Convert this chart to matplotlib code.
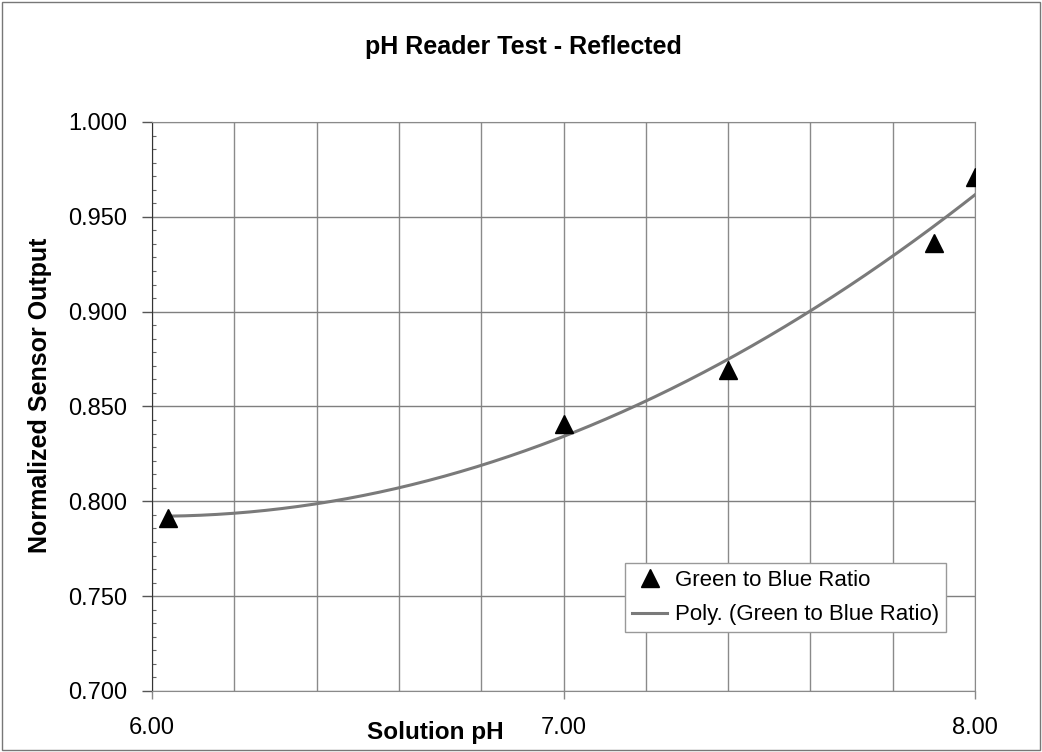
import numpy as np
import matplotlib
matplotlib.use("Agg")
import matplotlib.pyplot as plt
from matplotlib.patches import Rectangle
from matplotlib.ticker import MultipleLocator, AutoMinorLocator, FormatStrFormatter

# data
ph = [6.04, 7.00, 7.40, 7.90, 8.00]
ratio = [0.791, 0.841, 0.869, 0.936, 0.971]
title = "pH Reader Test - Reflected"
series_name = "Green to Blue Ratio"
trend_name = "Poly. (Green to Blue Ratio)"

plt.rcParams["font.family"] = ["Liberation Sans", "DejaVu Sans"]

fig = plt.figure(figsize=(10.42, 7.52), dpi=100)
ax = fig.add_axes([152 / 1042, 1 - 691 / 752, 823 / 1042, 569 / 752])

# 2nd order polynomial trendline, as the spreadsheet computes it
coef = np.polyfit(ph, ratio, 2)
xs = np.linspace(min(ph), max(ph), 200)
ax.plot(xs, np.polyval(coef, xs), color="#7a7a7a", lw=2.2, label=trend_name, zorder=3)
ax.plot(ph, ratio, ls="none", marker="^", ms=12.5, color="black", label=series_name, zorder=4)

ax.set_xlim(6.0, 8.0)
ax.set_ylim(0.700, 1.000)
ax.xaxis.set_major_locator(MultipleLocator(1.0))
ax.xaxis.set_minor_locator(MultipleLocator(0.2))
ax.xaxis.set_major_formatter(FormatStrFormatter("%.2f"))
ax.yaxis.set_major_locator(MultipleLocator(0.05))
ax.yaxis.set_minor_locator(AutoMinorLocator(7))
ax.yaxis.set_major_formatter(FormatStrFormatter("%.3f"))

ax.grid(which="major", axis="y", color="#7f7f7f", lw=1.0)
ax.grid(which="both", axis="x", color="#8a8a8a", lw=1.0)
ax.set_axisbelow(True)

ax.tick_params(axis="x", which="major", direction="out", length=6, width=1, color="#888888",
               labelsize=17, pad=13)
ax.tick_params(axis="x", which="minor", length=0)
ax.tick_params(axis="y", which="major", direction="out", length=7, width=1, color="#555555",
               labelsize=17, pad=11)
ax.tick_params(axis="y", which="minor", direction="in", length=3, width=0.8, color="#666666")

for side in ["top", "right", "bottom"]:
    ax.spines[side].set_color("#8a8a8a")
ax.spines["left"].set_color("#333333")

leg = ax.legend(handles=ax.get_lines()[::-1], loc="lower right", bbox_to_anchor=(0.9648, 0.1037),
                fontsize=16, frameon=True, fancybox=False, framealpha=1, edgecolor="#999999",
                borderpad=0.3, labelspacing=0.6, handlelength=1.6, handletextpad=0.35,
                borderaxespad=0)
leg.get_frame().set_linewidth(1.0)

fig.text(523 / 1042, 1 - 47 / 752, title, ha="center", va="center", fontsize=18, weight="bold")
fig.text(435 / 1042, 1 - 732 / 752, "Solution pH", ha="center", va="center", fontsize=17.5,
         weight="bold")
fig.text(40 / 1042, 1 - 395 / 752, "Normalized Sensor Output", ha="center", va="center",
         rotation=90, fontsize=18, weight="bold")

fig.patches.append(Rectangle((0.002, 0.002), 0.996, 0.995, transform=fig.transFigure,
                             fill=False, edgecolor="#777777", lw=1.0))

fig.savefig("out.png", dpi=100)
